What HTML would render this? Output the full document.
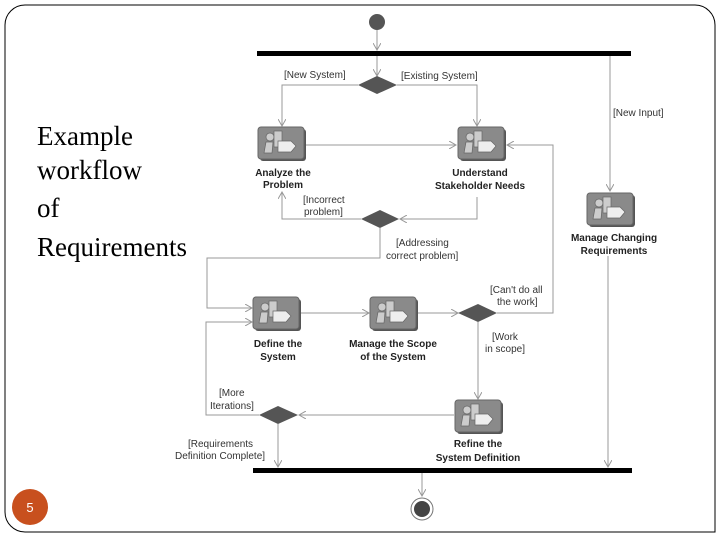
<!DOCTYPE html>
<html><head><meta charset="utf-8"><style>
html,body{margin:0;padding:0;background:#fff}
body{width:720px;height:540px;position:relative;overflow:hidden}
</style></head><body>
<svg width="720" height="540" viewBox="0 0 720 540" xmlns="http://www.w3.org/2000/svg" style="position:absolute;left:0;top:0">
<defs>
<marker id="a" markerWidth="8" markerHeight="8" refX="7" refY="4" orient="auto" markerUnits="userSpaceOnUse">
<path d="M0,0 L7,4 L0,8" fill="none" stroke="#999" stroke-width="1"/></marker>
<g id="ic">
<rect x="2" y="2" width="46" height="32" rx="3" fill="#555"/>
<rect x="0" y="0" width="46" height="32" rx="3" fill="#8a8a8a" stroke="#666" stroke-width="1"/>
<circle cx="12" cy="10" r="4" fill="#ccc" stroke="#666" stroke-width="0.7"/>
<path d="M8,15 L15,15 L14,26 L6,26 Z" fill="#ccc" stroke="#666" stroke-width="0.7"/>
<rect x="16" y="4" width="8" height="16" fill="#ccc" stroke="#666" stroke-width="0.7"/>
<path d="M20,14 L33,14 L38,19 L33,25 L20,25 Z" fill="#eee" stroke="#666" stroke-width="0.7"/>
</g>
</defs>
<path d="M25,5 H695 A20,20 0 0 1 715,25 V532 H25 A20,20 0 0 1 5,512 V25 A20,20 0 0 1 25,5 Z" fill="none" stroke="#000" stroke-width="1"/>
<g fill="none" stroke="#999" stroke-width="1">
<line x1="377" y1="30" x2="377" y2="50" marker-end="url(#a)"/>
<line x1="377" y1="56" x2="377" y2="76" marker-end="url(#a)"/>
<polyline points="358,85 282,85 282,126" marker-end="url(#a)"/>
<polyline points="397,85 477,85 477,126" marker-end="url(#a)"/>
<line x1="303" y1="145" x2="456" y2="145" marker-end="url(#a)"/>
<polyline points="497,313 553,313 553,145 507,145" marker-end="url(#a)"/>
<polyline points="477,197 477,219 400,219" marker-end="url(#a)"/>
<polyline points="361,219 282,219 282,192" marker-end="url(#a)"/>
<polyline points="380,228 380,258 207,258 207,308 252,308" marker-end="url(#a)"/>
<line x1="299" y1="313" x2="369" y2="313" marker-end="url(#a)"/>
<line x1="416" y1="313" x2="458" y2="313" marker-end="url(#a)"/>
<line x1="478" y1="322" x2="478" y2="399" marker-end="url(#a)"/>
<line x1="454" y1="415" x2="299" y2="415" marker-end="url(#a)"/>
<polyline points="259,415 206,415 206,322 252,322" marker-end="url(#a)"/>
<line x1="278" y1="424" x2="278" y2="467" marker-end="url(#a)"/>
<line x1="610" y1="56" x2="610" y2="191" marker-end="url(#a)"/>
<line x1="608" y1="256" x2="608" y2="467" marker-end="url(#a)"/>
<line x1="422" y1="473" x2="422" y2="496" marker-end="url(#a)"/>
</g>
<circle cx="377" cy="22" r="8" fill="#555"/>
<rect x="257" y="51" width="374" height="5" fill="#000"/>
<rect x="253" y="468" width="379" height="5" fill="#000"/>
<circle cx="422" cy="509" r="11" fill="#fff" stroke="#777" stroke-width="1"/>
<circle cx="422" cy="509" r="8" fill="#444"/>
<g fill="#555">
<polygon points="358,85 377,76 397,85 377,94"/>
<polygon points="361,219 380,210 399,219 380,228"/>
<polygon points="458,313 478,304 497,313 478,322"/>
<polygon points="259,415 278,406 298,415 278,424"/>
</g>
<use href="#ic" x="258" y="127"/>
<use href="#ic" x="458" y="127"/>
<use href="#ic" x="587" y="193"/>
<use href="#ic" x="253" y="297"/>
<use href="#ic" x="370" y="297"/>
<use href="#ic" x="455" y="400"/>
<g font-family="Liberation Sans, sans-serif" font-size="10" font-weight="bold" fill="#222" text-anchor="middle">
<text x="283" y="176">Analyze the</text><text x="283" y="188">Problem</text>
<text x="480" y="176">Understand</text><text x="480" y="189">Stakeholder Needs</text>
<text x="614" y="241">Manage Changing</text><text x="614" y="254">Requirements</text>
<text x="278" y="347">Define the</text><text x="278" y="360">System</text>
<text x="393" y="347">Manage the Scope</text><text x="393" y="360">of the System</text>
<text x="478" y="447">Refine the</text><text x="478" y="461">System Definition</text>
</g>
<g font-family="Liberation Sans, sans-serif" font-size="10" fill="#333">
<text x="284" y="78">[New System]</text>
<text x="401" y="79">[Existing System]</text>
<text x="613" y="116">[New Input]</text>
<text x="303" y="203">[Incorrect</text><text x="304" y="215">problem]</text>
<text x="396" y="246">[Addressing</text><text x="386" y="259">correct problem]</text>
<text x="490" y="293">[Can't do all</text><text x="497" y="305">the work]</text>
<text x="492" y="340">[Work</text><text x="485" y="352">in scope]</text>
<text x="219" y="396">[More</text><text x="210" y="409">Iterations]</text>
<text x="188" y="447">[Requirements</text><text x="175" y="459">Definition Complete]</text>
</g>
<g font-family="Liberation Serif, serif" font-size="27" fill="#000">
<text x="37" y="145">Example</text>
<text x="37" y="179">workflow</text>
<text x="37" y="217">of</text>
<text x="37" y="256">Requirements</text>
</g>
<circle cx="30" cy="507" r="18" fill="#c8501e"/>
<text x="30" y="512" font-family="Liberation Sans, sans-serif" font-size="13" fill="#fff" text-anchor="middle">5</text>
</svg>
</body></html>
